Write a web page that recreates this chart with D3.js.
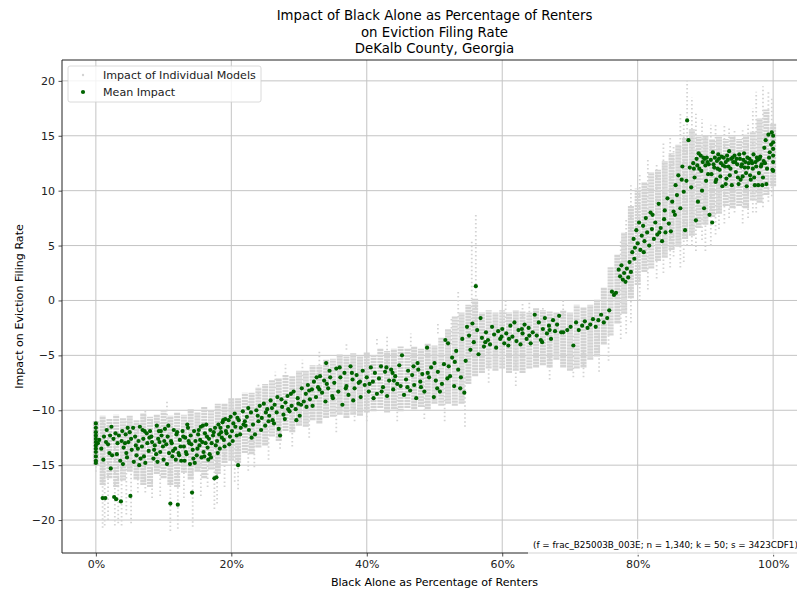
<!DOCTYPE html>
<html>
<head>
<meta charset="utf-8">
<script src="https://cdn.jsdelivr.net/npm/d3@7"></script>
<style>
  body { margin: 0; background: #fff; }
  svg { display: block; font-family: "DejaVu Sans", sans-serif; }
</style>
</head>
<body>
<svg id="chart" width="797" height="590"></svg>
<script>
// ---------- DATA ----------
const titleLines = ["Impact of Black Alone as Percentage of Renters", "on Eviction Filing Rate", "DeKalb County, Georgia"];
const xLabel = "Black Alone as Percentage of Renters";
const yLabel = "Impact on Eviction Filing Rate";
const legendLabels = ["Impact of Individual Models", "Mean Impact"];
const note = "(f = frac_B25003B_003E; n = 1,340; k = 50; s = 3423CDF1)";
const xTicks = [0, 20, 40, 60, 80, 100];
const yTicks = [-20, -15, -10, -5, 0, 5, 10, 15, 20];

// core spread of individual-model impacts: [pct, low, high]
const modelCore = [
[0,-15,-11],[1,-16.8,-10.5],[2,-16.2,-10.8],[3,-17,-10.4],[4,-16.4,-10.7],[5,-15.6,-10.5],[6,-16.3,-10.9],[7,-16.8,-10.3],[8,-17,-10.6],[9,-15.8,-10.4],
[10,-16.2,-10.1],[11,-16.8,-10.5],[12,-17,-10.2],[13,-15.7,-10.4],[14,-16.3,-9.9],[15,-15.6,-10.2],[16,-16.2,-9.7],[17,-15.4,-10],[18,-15.8,-9.4],[19,-14.8,-9.4],
[20,-14.6,-8.9],[21,-14.8,-8.9],[22,-13.9,-8.4],[23,-14,-8.4],[24,-13.4,-7.9],[25,-13.2,-7.6],[26,-12.4,-7.2],[27,-12.8,-7.1],[28,-11.9,-6.8],[29,-12,-6.9],
[30,-11.4,-6.4],[31,-11.5,-6.4],[32,-10.9,-5.9],[33,-11.2,-5.9],[34,-10.7,-5.4],[35,-10.6,-5.3],[36,-10.4,-4.9],[37,-10.7,-5.1],[38,-10.4,-4.8],[39,-10.5,-5.1],
[40,-10.2,-4.7],[41,-10.1,-4.9],[42,-9.8,-4.4],[43,-10.2,-4.6],[44,-9.9,-4.4],[45,-10.1,-4.2],[46,-9.8,-4.4],[47,-9.9,-4.2],[48,-9.7,-4.4],[49,-9.9,-3.9],
[50,-9.4,-4.1],[51,-9.6,-3.4],[52,-9.4,-2.6],[53,-9.6,-1.4],[54,-9.4,-1.1],[55,-7.6,-0.4],[56,-6.9,0.2],[57,-6.6,-1.1],[58,-6.2,-0.9],[59,-6.4,-1.1],
[60,-6.2,-0.9],[61,-6.6,-1.1],[62,-6.4,-0.9],[63,-6.6,-1.0],[64,-6.2,-1.1],[65,-6.1,-0.7],[66,-5.9,-0.9],[67,-6.1,-1.0],[68,-5.4,-1.1],[69,-6.1,-0.9],
[70,-6.4,-1.1],[71,-6.2,-0.4],[72,-6.1,-0.6],[73,-5.4,-0.4],[74,-5.1,0.1],[75,-4,1.2],[76,-3.2,3.1],[77,-2.1,4.2],[78,-1.2,6.2],[79,0.2,8.6],
[80,1.4,10.2],[81,2.6,10.8],[82,2.9,11.7],[83,3.6,11.9],[84,3.9,12.7],[85,4.6,13.4],[86,4.9,14.2],[87,5.6,14.8],[88,5.9,15.6],[89,6.6,14.9],
[90,6.9,15.1],[91,7.6,14.7],[92,7.9,14.9],[93,8.6,14.7],[94,8.4,14.9],[95,8.6,14.7],[96,8.4,15.1],[97,9.1,15.4],[98,8.9,16.6],[99,9.6,17.4],[100,10.4,16.1]
];
// sparse tails of individual-model impacts: [pct, low, high]
const modelTails = [
[0,-15.6,-11.2],[1.0,-20.7,-11],[1.3,-20.5,-11],[1.8,-20,-11],[2.8,-20.5,-12],[3.3,-20.3,-12],[3.8,-20.5,-12],[5.2,-20.3,-12],[6.2,-17.5,-11],[7.3,-17.5,-10],
[10.5,-13,-9],[11.0,-21,-12],[12.1,-20.8,-12],[14.3,-20.6,-12],[17.5,-19,-12],[17.9,-18.5,-12],[21.0,-17.2,-12],[23.4,-15.2,-10],[24,-10,-7.5],[27.2,-13.5,-10],
[29,-13.3,-9],[30.5,-8,-5.4],[33,-7,-4.5],[38.2,-11,-7],[43,-6,-3.3],[46.5,-6,-3],[52.5,-4,-1.5],[53.5,-3,1],[55.5,-5,5.5],[56.1,-4,8],
[63,-3,-0.3],[66,-3,-0.5],[70.5,-7,-3],[75.7,-5.5,-1],[79,-2,10.5],[80.3,0,11.5],[82.8,2,12.5],[85.3,4,14],[86.3,3,17],[87.3,5,20],
[88,5,18.5],[90,4.5,15],[90.8,5,16],[91.5,6,16],[92,6.5,14],[94.3,8,15.5],[97.5,8,19],[98.5,8.5,19.5],[99.3,9,19],
[4.5,-19.5,-11],[8.3,-18,-11],[9.5,-17.8,-11],[13,-18,-12],[15.5,-17.8,-12],[16.5,-17,-12],[19,-17,-10],[20.5,-16.5,-10],[22.5,-15.5,-9],[25.5,-14.5,-9],
[26.5,-8,-6.5],[28,-7,-5.8],[31.5,-12.5,-8],[35.5,-12,-8],[37,-4.5,-3.8],[40,-11,-7],[41.5,-4,-3.5],[44.5,-11,-7],[48.5,-10.8,-7],[50.5,-3,-2],
[51.5,-11,-7],[54.5,-11.5,-7],[58,-7.5,-4],[60.5,0,-2],[62,-7.8,-4],[64,-0.2,-2],[67,-7.2,-4],[69,0,-2],[72,-7,-4],[74.3,-6.5,-3],
[77.5,-3.5,5.5],[78.3,-3,7.5],[81.5,1,13],[83.8,2.5,14.5],[84.8,3,15],[86.8,3.5,16],[88.6,4.5,17],[89.5,5.5,16.5],[92.8,7,16],[93.5,7.5,15.8],
[95.5,7,15.5],[96.3,7.5,16],[97,8,17.5],[99.8,9.5,18.5]
];

// mean impact per tract: [pct, impact]
const meanLow = [
[0,-11.2],[0,-11.6],[0,-12.0],[0,-12.3],[0,-12.6],[0,-12.9],[0,-13.2],[0,-13.5],[0,-13.8],[0,-14.2],[0,-14.6],[0,-14.8],
[0.8,-13.5],[1.0,-18.0],[1.4,-18.0],[1.2,-12.4],[1.6,-11.8],[2.0,-13.9],[2.2,-15.3],[2.4,-14.1],[2.6,-12.6],[2.7,-17.9],[3.0,-18.1],[3.2,-13.0],
[3.4,-12.3],[3.7,-18.3],[3.9,-11.9],[4.1,-13.4],[4.4,-12.2],[4.6,-14.3],[4.8,-12.9],[5.1,-17.8],[5.3,-13.6],[5.5,-11.6],[5.8,-12.4],[6.0,-14.1],
[6.3,-12.8],[6.5,-11.5],[6.8,-13.3],[7.0,-12.6],[7.3,-14.8],[7.5,-12.1],[7.8,-13.7],[8.0,-11.9],[8.3,-12.9],[8.5,-14.4],[8.7,-13.2],[9.0,-11.4],
[9.2,-12.6],[9.5,-13.8],[9.7,-12.3],[10.0,-14.5],[10.2,-11.7],[10.4,-13.1],[10.6,-12.4],[10.8,-13.9],[11.0,-18.5],[11.1,-12.8],[11.3,-14.2],[11.5,-11.8],
[11.7,-13.5],[11.9,-12.2],[12.1,-18.6],[12.2,-13.9],[12.4,-12.7],[12.6,-14.6],[12.8,-11.9],[13.0,-13.3],[13.2,-12.5],[13.4,-14.0],[13.6,-11.6],[13.8,-13.0],
[14.0,-12.3],[14.2,-17.5],[14.3,-13.6],[14.5,-11.9],[14.7,-12.8],[14.9,-14.1],[15.1,-12.2],[15.3,-13.2],[15.5,-11.5],[15.7,-12.9],[15.9,-13.8],[16.1,-12.1],
[16.3,-11.3],[16.5,-13.4],[16.7,-12.6],[16.9,-11.8],[17.1,-13.0],[17.3,-12.3],[17.5,-16.2],[17.8,-16.1],[17.6,-11.6],[17.9,-12.8],[18.1,-11.3],[18.3,-13.5],
[18.5,-12.0],[18.7,-11.1],[18.9,-12.7],[19.1,-10.8],[19.3,-12.1],[19.5,-11.5],[19.7,-13.1],[19.9,-10.6],[20.1,-11.9],[20.3,-11.2],[20.5,-10.3],[20.8,-12.3],
[21.0,-15.0],[21.1,-10.9],[21.4,-11.6],[21.7,-10.1],[22.0,-11.0],
[0.5,-12.7],[1.8,-13.1],[2.9,-12.1],[3.6,-14.6],[4.3,-13.0],[5.0,-12.0],[5.6,-14.7],[6.2,-13.5],[6.9,-11.8],[7.6,-13.0],[8.2,-12.4],[8.9,-14.0],
[9.4,-12.9],[9.9,-13.3],[10.5,-14.9],[11.2,-13.0],[11.8,-14.5],[12.5,-13.3],[13.1,-14.6],[13.7,-12.8],[14.4,-14.4],[15.0,-13.5],[15.6,-14.3],[16.2,-13.0],
[16.8,-14.0],[17.4,-12.0],[18.0,-13.9],[18.6,-12.5],[19.2,-11.9],[19.8,-12.4],[20.6,-11.5],[2.1,-12.3],[4.7,-11.6],[7.1,-14.2],[9.6,-11.9],[12.0,-12.0],
[13.5,-11.3],[15.8,-11.4],[16.6,-14.5],[18.8,-10.9],
[0.3,-13.0],[1.1,-14.5],[1.5,-12.9],[2.3,-11.5],[3.1,-14.0],[3.8,-12.8],[4.5,-13.9],[5.2,-12.6],[5.9,-13.2],[6.6,-14.4],[7.2,-11.9],[7.9,-12.5],
[8.6,-13.6],[9.3,-11.9],[10.1,-12.8],[10.7,-11.4],[11.4,-13.7],[12.3,-14.1],[12.9,-12.4],[13.3,-13.8],[14.1,-13.1],[14.6,-14.8],[15.2,-11.8],[15.4,-12.7],
[16.0,-14.2],[16.4,-12.4],[17.0,-14.3],[17.7,-13.2],[18.2,-12.2],[18.4,-11.6],[19.0,-13.3],[19.6,-10.9],[20.2,-12.8],[20.9,-10.7],[21.3,-12.2],[21.8,-11.3],
[6.4,-15.0],[9.1,-14.7],[13.9,-14.9],[4.0,-14.9]
];
const meanMid = [
[22.3,-10.6],[22.6,-11.8],[22.9,-10.2],[23.2,-11.3],[23.5,-12.2],[23.7,-10.0],[24.0,-11.0],[24.2,-9.6],[24.5,-10.7],[24.8,-9.4],[25.0,-11.4],[25.3,-9.9],
[25.6,-10.5],[25.8,-9.1],[26.1,-10.9],[26.4,-9.5],[26.7,-10.2],[27.0,-11.7],[27.2,-12.3],[27.4,-9.0],[27.7,-10.4],[28.0,-9.3],[28.3,-8.7],[28.6,-10.1],
[28.9,-9.6],[29.2,-8.3],[29.5,-9.9],[29.8,-8.9],[30.1,-10.5],[30.4,-8.0],[30.7,-9.2],[31.0,-8.5],[31.3,-7.7],[31.6,-9.0],[31.9,-8.1],[32.2,-7.4],
[32.5,-8.8],[32.8,-7.9],[33.1,-6.9],[33.4,-8.4],[33.7,-7.3],[34.0,-5.7],[34.3,-8.0],[34.6,-7.0],[34.9,-8.7],
[22.1,-11.4],[23.0,-12.5],[24.4,-11.8],[25.5,-11.0],[26.0,-9.8],[26.8,-8.8],[27.9,-10.8],[28.8,-8.5],[29.6,-10.9],[30.3,-9.5],[31.5,-8.2],[32.0,-9.6],
[33.0,-8.1],[33.9,-9.2],[34.5,-6.4],
[22.5,-9.8],[23.9,-10.5],[25.1,-10.2],[26.3,-11.2],[27.5,-9.7],[28.4,-9.9],[29.9,-9.4],[31.1,-9.7],[32.6,-7.0],[34.1,-7.6],
[35.2,-7.5],[35.5,-6.2],[35.8,-8.3],[36.1,-7.0],[36.4,-9.5],[36.7,-6.6],[37.0,-7.8],[37.3,-8.6],[37.6,-6.0],[37.9,-7.2],[38.2,-8.0],[38.5,-6.8],
[38.8,-7.5],[39.1,-8.8],[39.4,-6.4],[39.7,-7.7],[40.0,-7.0],[40.3,-8.3],[40.6,-6.1],[40.9,-7.4],[41.2,-6.6],[41.5,-8.5],[41.8,-7.1],[42.1,-6.0],
[42.4,-7.9],[42.7,-6.5],[43.0,-8.7],[43.3,-7.3],[43.6,-6.3],[43.9,-8.1],[44.2,-6.9],[44.5,-7.6],[44.8,-5.9],[45.2,-5.0],[45.5,-8.6],[45.8,-7.2],
[46.1,-6.4],[46.4,-8.2],[46.7,-6.8],[47.0,-7.7],[47.3,-8.9],[47.6,-6.3],[47.9,-7.4],[48.2,-6.7],[48.5,-8.3],[48.9,-4.3],[49.2,-7.0],[49.5,-6.1],
[49.9,-8.8],[50.2,-7.3],[50.5,-6.5],[50.8,-8.3],[51.1,-7.6],[51.4,-5.8],[51.6,-3.6],[52.0,-3.9],[52.3,-6.9],[52.6,-5.2],[52.9,-7.8],[53.2,-4.6],
[53.5,-6.3],[53.8,-8.0],[54.1,-3.5],[54.4,-8.4],[54.8,-2.4],[54.6,-5.5],
[35.0,-8.9],[36.0,-6.1],[38.0,-9.1],[39.0,-7.4],[41.0,-8.9],[42.9,-6.1],[44.0,-7.3],[46.0,-7.9],[47.5,-5.7],[49.0,-6.6],[50.0,-5.7],[51.9,-7.1],[53.0,-5.6],
[36.9,-8.0],[37.8,-6.6],[40.4,-7.6],[42.2,-8.3],[43.8,-6.6],[45.0,-7.8],[46.9,-6.0],[48.0,-7.9],[50.4,-8.0],[52.1,-6.0],[53.9,-7.0]
];
const meanHigh = [
[55.1,-3.2],[55.3,-4.5],[55.6,-2.1],[55.8,-3.8],[56.1,1.3],[56.3,-2.7],[56.5,-4.9],[56.8,-1.6],[57.0,-3.4],[57.3,-4.2],[57.6,-2.9],[57.9,-3.6],
[58.2,-4.0],[58.5,-2.4],[58.8,-3.1],[59.1,-4.3],[59.4,-2.8],[59.7,-3.5],[60.0,-2.6],[60.3,-3.9],[60.6,-3.0],[60.9,-4.1],[61.2,-2.3],[61.5,-3.3],
[61.8,-2.0],[62.1,-3.7],[62.4,-2.7],[62.7,-4.0],[63.0,-3.0],[63.3,-2.2],[63.6,-3.5],[63.9,-2.5],[64.2,-3.9],[64.5,-2.9],[64.8,-1.3],[65.1,-3.2],
[65.4,-2.0],[65.7,-3.6],[66.0,-2.6],[66.3,-1.6],[66.6,-3.0],[66.9,-2.3],[67.2,-3.5],[67.5,-1.8],[67.8,-2.8],[68.1,-2.2],[68.4,-1.4],[68.7,-2.9],
[69.6,-2.7],[70.1,-2.4],[70.5,-4.1],[70.9,-2.0],[71.3,-2.7],[71.8,-2.3],[72.2,-1.9],[72.6,-2.5],[73.0,-2.2],[73.4,-1.7],[73.8,-2.4],[74.2,-1.8],
[74.6,-1.3],[75.0,-2.0],[75.5,-1.6],[75.8,-0.9],
[57.5,-3.8],[59.9,-3.3],[61.0,-3.5],[62.9,-2.6],[64.0,-3.2],[65.9,-3.8],[67.0,-2.7],[69.0,-2.9],
[76.2,0.8],[76.5,0.5],[76.8,0.7],[77.2,2.8],[77.4,2.2],[77.6,3.2],[77.8,1.9],[78.0,2.5],[78.2,1.7],[78.4,2.9],[78.6,2.1],[78.8,3.5],
[79.0,2.6],[79.2,4.4],[79.4,5.6],[79.6,4.8],[79.8,6.4],[80.0,5.2],[80.2,7.1],[80.4,4.6],[80.6,5.9],[80.8,6.8],[81.0,5.4],[81.2,7.5],
[81.4,6.2],[81.7,5.0],[81.9,8.0],[82.1,6.5],[82.4,5.6],[82.6,7.1],[82.9,6.0],[83.1,8.8],[83.4,6.6],[83.6,5.4],[83.9,7.4],[84.1,6.2],
[84.4,9.3],[84.6,7.0],[84.9,6.3],[85.1,9.0],[85.3,8.1],[85.6,10.5],[85.8,9.6],[86.0,11.4],[86.3,8.4],[86.5,11.0],[86.8,9.9],[87.0,6.4],
[87.3,16.4],[87.5,14.6],[87.7,12.1],[87.9,10.3],
[79.5,3.8],[80.9,4.4],[82.2,7.8],[83.2,6.2],[84.0,8.2],[85.5,7.8],[86.6,12.2],[87.2,10.9],
[88.2,12.5],[88.4,11.2],[88.6,7.3],[88.7,12.9],[88.9,9.0],[89.1,12.0],[89.3,13.2],[89.5,10.0],[89.6,12.6],[89.8,8.4],[90.0,12.3],[90.2,13.0],
[90.4,11.5],[90.6,7.8],[90.8,12.8],[91.0,7.1],[91.1,13.5],[91.3,12.1],[91.5,10.8],[91.7,12.7],[91.9,13.3],[92.1,11.9],[92.3,12.5],[92.5,10.4],
[92.7,13.0],[92.9,12.2],[93.1,11.1],[93.3,12.8],[93.5,13.6],[93.7,12.0],[93.9,10.5],[94.1,12.6],[94.3,13.2],[94.5,11.7],[94.7,12.4],[94.9,10.6],
[95.1,12.9],[95.3,12.2],[95.5,11.3],[95.7,13.4],[95.9,12.6],[96.1,10.4],[96.3,12.1],[96.5,12.9],[96.7,11.0],[96.9,12.5],[97.1,13.3],[97.3,10.5],
[97.5,12.2],[97.7,12.8],[97.9,11.6],[98.1,13.1],[98.3,12.4],[98.5,11.2],[98.7,13.9],[98.9,14.6],[99.1,12.0],[99.3,15.1],[99.5,13.5],[99.7,14.2],
[99.9,11.9],[100,15.0],[100,14.4],[100,13.8],[100,13.2],[100,12.6],[100,11.8],[99.8,15.3],
[88.3,12.0],[89.0,13.4],[89.9,12.9],[90.5,12.4],[91.4,13.0],[92.0,12.9],[92.6,12.3],[93.2,13.2],[93.8,12.9],[94.4,12.6],[95.0,13.3],[95.6,12.8],
[96.2,13.0],[96.8,12.7],[97.4,12.6],[98.0,12.9],[98.6,12.7],[89.4,11.8],[90.9,11.5],[92.2,11.3],[93.6,11.4],[95.2,11.0],[96.6,11.4],[97.8,10.5],[99.0,10.6],
[88.8,12.3],[89.7,13.0],[90.3,12.6],[91.2,12.4],[91.8,12.0],[92.4,13.1],[93.0,12.6],[93.4,12.2],[94.0,13.0],[94.6,12.9],[95.4,12.4],[95.8,12.1],
[96.4,12.5],[97.0,12.0],[97.6,13.0],[98.2,12.2],[98.8,12.5],[99.4,13.0],[96.0,11.6],[94.8,11.2],[93.0,10.6],[97.2,11.2],[98.4,10.5],[91.6,11.0],[90.1,10.9]
];

// ---------- CHART ----------
const svg = d3.select("#chart");
const plot = { left: 62, right: 807, top: 60, bottom: 553 };

const x = d3.scaleLinear().domain([-5, 105]).range([plot.left, plot.right]);
const y = d3.scaleLinear().domain([-23.0, 21.9]).range([plot.bottom, plot.top]);

// grid
const grid = svg.append("g");
grid.selectAll("line.gx").data(xTicks).join("line")
  .attr("x1", d => x(d)).attr("x2", d => x(d))
  .attr("y1", plot.top).attr("y2", plot.bottom)
  .attr("stroke", "#c4c4c4").attr("stroke-width", 1);
grid.selectAll("line.gy").data(yTicks).join("line")
  .attr("x1", plot.left).attr("x2", plot.right)
  .attr("y1", d => y(d)).attr("y2", d => y(d))
  .attr("stroke", "#c4c4c4").attr("stroke-width", 1);

// individual models
const gm = svg.append("g");
gm.selectAll("line.core").data(modelCore).join("line")
  .attr("x1", d => x(d[0])).attr("x2", d => x(d[0]))
  .attr("y1", d => y(d[1])).attr("y2", d => y(d[2]))
  .attr("stroke", "#d3d3d3").attr("stroke-width", 6.0)
  .attr("stroke-dasharray", "2.4,0.6");
gm.selectAll("line.tail").data(modelTails).join("line")
  .attr("x1", d => x(d[0])).attr("x2", d => x(d[0]))
  .attr("y1", d => y(d[1])).attr("y2", d => y(d[2]))
  .attr("stroke", "#d3d3d3").attr("stroke-width", 1.8)
  .attr("stroke-dasharray", "1.5,2.5");

// means
const means = meanLow.concat(meanMid, meanHigh);
svg.append("g").selectAll("circle").data(means).join("circle")
  .attr("cx", d => x(d[0])).attr("cy", d => y(d[1]))
  .attr("r", 2.1).attr("fill", "#006400");

// axes
const xAxis = d3.axisBottom(x).tickValues(xTicks).tickFormat(d => d + "%").tickSize(3.5).tickPadding(3.5);
const yAxis = d3.axisLeft(y).tickValues(yTicks).tickFormat(d3.format("d")).tickSize(3.5).tickPadding(3.5);
const gx = svg.append("g").attr("transform", `translate(0,${plot.bottom})`).call(xAxis);
const gy = svg.append("g").attr("transform", `translate(${plot.left},0)`).call(yAxis);
[gx, gy].forEach(g => {
  g.select(".domain").remove();
  g.selectAll("line").attr("stroke", "#222").attr("stroke-width", 0.8);
  g.selectAll("text").attr("fill", "#222").style("font-size", "11px").style("font-family", "DejaVu Sans");
});

// spines
svg.append("line").attr("x1", plot.left).attr("x2", plot.left).attr("y1", plot.top).attr("y2", plot.bottom).attr("stroke", "#222").attr("stroke-width", 1);
svg.append("line").attr("x1", plot.left).attr("x2", plot.right).attr("y1", plot.top).attr("y2", plot.top).attr("stroke", "#222").attr("stroke-width", 1);
svg.append("line").attr("x1", plot.left).attr("x2", plot.right).attr("y1", plot.bottom).attr("y2", plot.bottom).attr("stroke", "#222").attr("stroke-width", 1);

// title
const cx = (plot.left + plot.right) / 2;
svg.append("text").attr("x", cx).attr("y", 20).attr("text-anchor", "middle")
  .style("font-size", "13.3px").attr("fill", "#000")
  .selectAll("tspan").data(titleLines).join("tspan")
  .attr("x", cx).attr("dy", (d, i) => i === 0 ? 0 : 16.5).text(d => d);

// axis labels
svg.append("text").attr("x", cx).attr("y", 586).attr("text-anchor", "middle")
  .style("font-size", "11.1px").attr("fill", "#000").text(xLabel);
svg.append("text").attr("transform", `translate(23,${(plot.top + plot.bottom) / 2}) rotate(-90)`)
  .attr("text-anchor", "middle").style("font-size", "11.1px").attr("fill", "#000").text(yLabel);

// note
svg.append("rect").attr("x", 528).attr("y", 539).attr("width", 290).attr("height", 16)
  .attr("fill", "#fff").attr("fill-opacity", 0.8);
svg.append("text").attr("x", 533).attr("y", 547.5).style("font-size", "8.8px").attr("fill", "#000").text(note);

// legend
const lg = svg.append("g");
lg.append("rect").attr("x", 68).attr("y", 66).attr("width", 193).attr("height", 36).attr("rx", 2)
  .attr("fill", "#fff").attr("fill-opacity", 0.8).attr("stroke", "#d0d0d0").attr("stroke-width", 0.8);
lg.append("circle").attr("cx", 83).attr("cy", 75).attr("r", 1.2).attr("fill", "#d3d3d3");
lg.append("circle").attr("cx", 83).attr("cy", 92).attr("r", 2.1).attr("fill", "#006400");
lg.selectAll("text").data(legendLabels).join("text")
  .attr("x", 103).attr("y", (d, i) => 78.5 + i * 17).style("font-size", "11.1px").attr("fill", "#222").text(d => d);
</script>
</body>
</html>
